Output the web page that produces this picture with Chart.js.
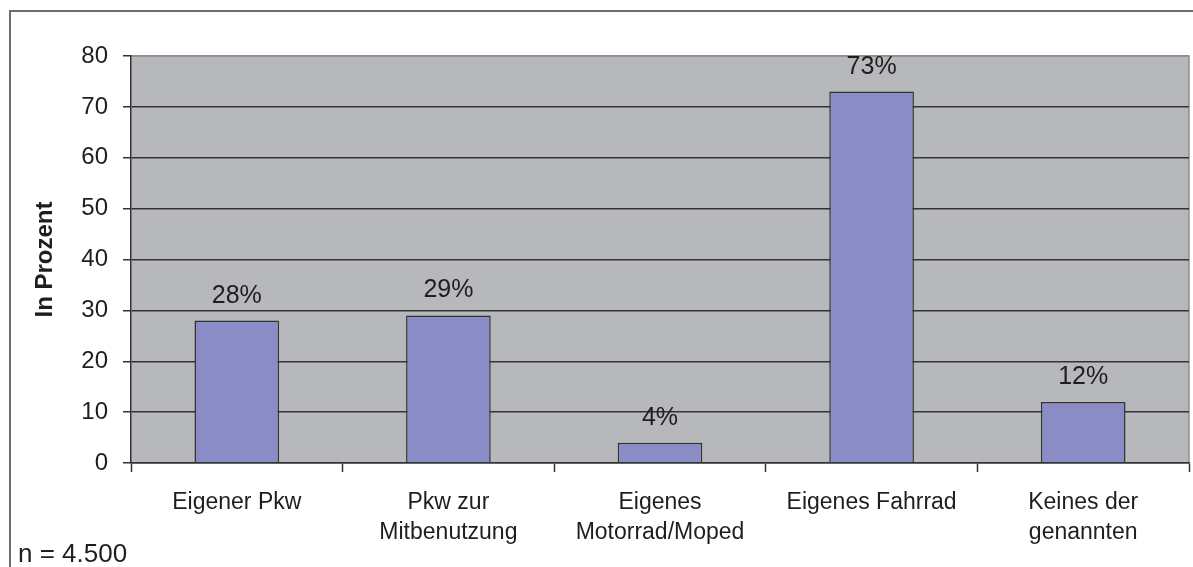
<!DOCTYPE html>
<html>
<head>
<meta charset="utf-8">
<script src="https://cdn.jsdelivr.net/npm/chart.js@4/dist/chart.umd.min.js"></script>
<style>
  html, body { margin: 0; padding: 0; background: #ffffff; }
  #wrap { position: relative; width: 1193px; height: 567px; overflow: hidden; }
  canvas { position: absolute; left: 0; top: 0; }
</style>
</head>
<body>
<div id="wrap"><canvas id="c" width="1193" height="567"></canvas></div>
<script>
const categories = [["Eigener Pkw"], ["Pkw zur", "Mitbenutzung"], ["Eigenes", "Motorrad/Moped"], ["Eigenes Fahrrad"], ["Keines der", "genannten"]];
const values = [28, 29, 4, 73, 12];
const yTicks = [0, 10, 20, 30, 40, 50, 60, 70, 80];
const yTitle = "In Prozent";
const footnote = "n = 4.500";

const FONT = "'Liberation Sans', Arial, sans-serif";
const TEXT = "#1e1e1e";

const framePlugin = {
  id: 'frame',
  beforeDraw(chart) {
    const {ctx, chartArea: a} = chart;
    ctx.save();
    ctx.fillStyle = '#b7b8bc';
    ctx.fillRect(a.left, a.top, a.right - a.left, a.bottom - a.top);
    ctx.strokeStyle = '#8e8e92';
    ctx.lineWidth = 1.5;
    ctx.beginPath();
    ctx.moveTo(a.left, a.top);
    ctx.lineTo(a.right, a.top);
    ctx.lineTo(a.right, a.bottom);
    ctx.stroke();
    // outer frame
    ctx.strokeStyle = '#6e6e6e';
    ctx.lineWidth = 2;
    ctx.beginPath();
    ctx.moveTo(10, 600);
    ctx.lineTo(10, 11);
    ctx.lineTo(1200, 11);
    ctx.stroke();
    ctx.restore();
  },
  afterDraw(chart) {
    const {ctx} = chart;
    ctx.save();
    ctx.fillStyle = TEXT;
    ctx.font = "26px " + FONT;
    ctx.textAlign = 'left';
    ctx.textBaseline = 'alphabetic';
    ctx.fillText(footnote, 18, 562);
    ctx.restore();
  },
  afterDatasetsDraw(chart) {
    const {ctx} = chart;
    const meta = chart.getDatasetMeta(0);
    ctx.save();
    ctx.fillStyle = TEXT;
    ctx.font = "25px " + FONT;
    ctx.textAlign = 'center';
    ctx.textBaseline = 'alphabetic';
    meta.data.forEach((bar, i) => {
      ctx.fillText(values[i] + '%', bar.x, bar.y - 18);
    });
    ctx.restore();
  }
};

new Chart(document.getElementById('c'), {
  type: 'bar',
  data: {
    labels: categories,
    datasets: [{
      data: values,
      backgroundColor: '#8a8dc5',
      borderColor: '#333333',
      borderWidth: 1.5,
      barPercentage: 0.4,
      categoryPercentage: 1.0
    }]
  },
  options: {
    responsive: false,
    animation: false,
    devicePixelRatio: 1,
    layout: { padding: { top: 56, right: 4, left: 0, bottom: 0 } },
    plugins: { legend: { display: false }, tooltip: { enabled: false } },
    scales: {
      x: {
        offset: true,
        afterFit(scale) { scale.height = 104; },
        grid: { display: true, drawOnChartArea: false, drawTicks: true, tickLength: 9, tickColor: '#333333', tickWidth: 1.5, offset: true },
        border: { display: true, color: '#333333', width: 1.5 },
        ticks: { color: TEXT, font: { family: FONT, size: 23, lineHeight: 1.3 }, padding: 16, maxRotation: 0, autoSkip: false }
      },
      y: {
        min: 0, max: 80,
        afterFit(scale) { scale.width = 131; },
        afterBuildTicks(scale) { scale.ticks = yTicks.map(v => ({ value: v })); },
        grid: {
          color: (c) => (c.tick && c.tick.value === 80) ? '#8e8e92' : '#333333',
          lineWidth: 1.5,
          tickLength: 8, tickColor: '#333333', tickWidth: 1.5
        },
        border: { display: true, color: '#333333', width: 1.5 },
        ticks: { color: TEXT, font: { family: FONT, size: 24 }, padding: 15 },
        title: { display: true, text: yTitle, color: TEXT, font: { family: FONT, size: 24, weight: 'bold' }, padding: { top: 31, bottom: 0 } }
      }
    }
  },
  plugins: [framePlugin]
});
</script>
</body>
</html>
